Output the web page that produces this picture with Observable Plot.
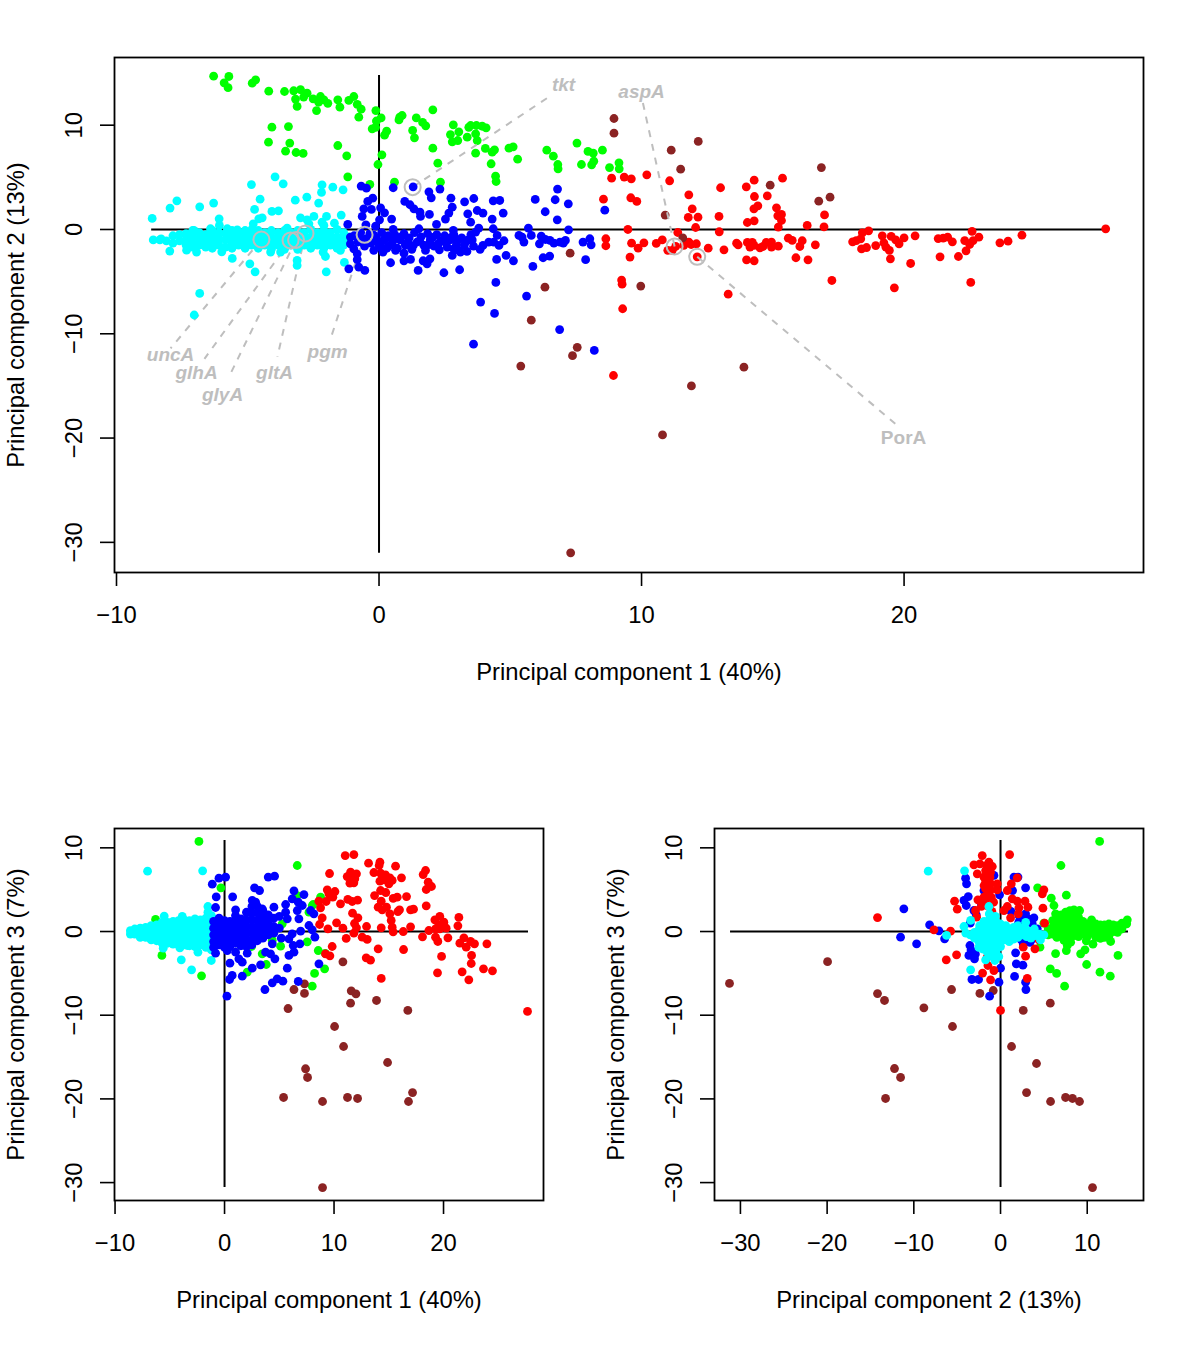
<!DOCTYPE html>
<html><head><meta charset="utf-8">
<script src="https://cdn.jsdelivr.net/npm/d3@7"></script>
<script src="https://cdn.jsdelivr.net/npm/@observablehq/plot@0.6"></script>
<style>html,body{margin:0;padding:0;background:#fff}#page{position:relative;width:1200px;height:1371px;overflow:hidden}#page svg{position:absolute;background:none;max-width:none}</style>
</head><body><div id="page"></div>
<script>
const GREEN="#00ff00",RED="#ff0000",BLUE="#0000ff",CYAN="#00ffff",BROWN="#8b2323",GREY="#bebebe";
const pc1Label="Principal component 1 (40%)",pc2Label="Principal component 2 (13%)",pc3Label="Principal component 3 (7%)";

// PC1 vs PC2
const a_green=[[-6.3,14.7],[-5.72,14.67],[-5.9,14.06],[-5.75,13.6],[-4.83,14.03],[-4.7,14.35],[-4.2,13.26],[-3.6,13.23],[-3.25,13.3],[-2.99,13.4],[-2.74,13.07],[-3.18,12.5],[-2.87,12.7],[-2.51,12.53],[-2.23,12.75],[-2.1,12.43],[-2.3,12.2],[-1.95,12.1],[-3.12,11.8],[-2.38,11.4],[-1.57,12.43],[-1.49,11.73],[-1.15,12.37],[-0.96,12.75],[-0.83,12],[-0.68,11.54],[-0.77,10.77],[-0.12,11.4],[0.08,10.7],[-0.1,10.4],[-0.13,9.8],[-0.26,9.65],[0.29,9.43],[0.21,9.04],[0.79,10.77],[0.88,10.93],[0.76,10.5],[1.42,10.7],[1.66,10.26],[1.78,9.94],[2.05,11.47],[1.28,9.5],[1.35,8.79],[2.83,10.03],[2.72,9.1],[3.04,9.36],[2.79,8.4],[3,8.53],[3.36,8.85],[3.42,9.8],[3.71,9.97],[3.68,9.17],[3.74,8.53],[3.68,7.32],[-4.08,9.81],[-3.45,9.87],[-4.21,8.37],[-3.4,8.28],[-3.56,7.51],[-3.16,7.38],[-2.89,7.29],[-1.57,8.05],[-1.23,7.06],[0.11,7.16],[-0.04,6.23],[2.05,7.8],[2.24,6.36],[-1.19,5.05],[-0.35,4.32],[0.59,4.54],[2.34,4.54],[3.49,9.97],[3.93,9.9],[4.08,9.75],[4.05,7.77],[4.4,7.64],[4.31,7.41],[4.95,7.8],[5.11,7.93],[5.28,6.74],[4.27,6.3],[4.44,5.11],[4.46,4.6],[6.39,7.6],[6.64,7.03],[6.81,6.23],[6.82,5.82],[7.54,8.28],[7.96,7.48],[8.16,7.32],[8.51,7.6],[8.18,6.55],[8.1,6.2],[7.71,6.23],[9.14,6.39],[8.78,5.94],[9.15,5.82]];
const a_red=[[8.86,4.92],[9.34,5.02],[9.61,4.86],[10.2,5.24],[11.07,4.67],[8.55,2.91],[9.59,3.04],[9.82,2.69],[9.48,0],[8.64,-0.89],[8.64,-1.56],[9.62,-1.31],[9.87,-1.79],[10.09,-1.28],[10.56,-1.34],[10.79,-1],[9.56,-2.65],[11,-2],[11.17,-2],[11.3,-1.63],[11.38,-0.29],[11.61,-1.53],[11.8,-1.21],[11.89,-1.44],[12.09,-1.37],[12.12,-2.62],[12.54,-1.79],[13.14,-1.95],[11.8,3.32],[11.93,1.98],[11.78,1.15],[12.15,1.18],[12.06,0.19],[12.95,1.25],[13.01,4],[12.96,-0.22],[13.62,-1.31],[13.68,-1.47],[13.99,4.09],[14.29,4.73],[15.37,4.92],[14.3,3.16],[14.79,3.23],[14.28,1.98],[14.43,2.27],[14.29,0.83],[14.03,0.67],[15.14,2.08],[15.33,1.44],[15.19,1.31],[15.33,0.86],[15.21,0.23],[16.31,0.39],[14.03,-1.24],[14.22,-1.24],[14.13,-1.69],[14.28,-1.53],[14.51,-1.76],[14.63,-1.63],[14.75,-1.24],[14.95,-1.21],[14.95,-1.69],[15.21,-1.6],[15.59,-0.83],[15.74,-1.05],[16.12,-1.08],[16.03,-1.63],[16.62,-1.47],[14,-2.91],[14.29,-3],[15.88,-2.71],[16.34,-2.91],[9.24,-4.85],[9.26,-5.24],[13.3,-6.2],[16.97,1.4],[16.95,0.25],[17.25,-4.89],[18.65,-0.13],[18.41,-0.32],[18.35,-0.9],[18.18,-1.06],[18.04,-1.18],[18.57,-1.73],[18.38,-1.86],[18.92,-1.54],[19.17,-0.61],[19.51,-0.67],[19.68,-0.99],[20,-0.8],[20.42,-0.61],[19.81,-1.38],[19.23,-1.28],[19.31,-1.7],[19.44,-2.01],[19.48,-2.81],[20.25,-3.26],[19.63,-5.59],[21.3,-0.87],[21.49,-0.83],[21.66,-0.74],[21.84,-1.18],[21.37,-2.62],[22.07,-2.59],[22.31,-1.06],[22.59,-0.19],[22.85,-0.74],[22.63,-1.06],[22.5,-1.44],[22.36,-2.05],[22.54,-5.08],[23.65,-1.28],[23.96,-1.12],[24.49,-0.55],[27.68,0.06],[8.93,-14],[9.28,-7.6]];
const a_brown=[[8.95,10.64],[8.95,9.23],[12.16,8.44],[11.13,7.6],[11.49,5.78],[14.9,4.25],[10.9,1.38],[11.57,-0.8],[7.28,-2.27],[6.32,-5.53],[9.97,-5.43],[16.85,5.94],[17.18,3.1],[16.75,2.71],[5.8,-8.7],[5.4,-13.1],[7.55,-11.3],[7.37,-12.1],[11.9,-15],[13.9,-13.2],[10.8,-19.7],[7.3,-31]];
const a_blue=[[-0.68,4.16],[-0.48,3.96],[0.54,4],[1.3,4.09],[1.9,3.61],[1.99,3.04],[2.32,3.87],[2.74,3],[-0.24,3],[-0.43,2.69],[0.98,2.69],[1.18,2.37],[1.33,1.98],[1.56,1.66],[1.58,1.25],[-0.58,1.98],[-0.29,1.92],[0.06,2.08],[0.21,1.6],[-0.64,1.25],[0.48,1],[0.02,0.93],[1.92,1.44],[2.79,2.14],[2.66,1.57],[2.53,1],[2.19,0.48],[3.26,2.65],[3.61,2.97],[3.74,1.82],[3.38,1.5],[3.49,0.7],[3.68,-0.25],[-1.19,0.48],[-0.5,0.45],[-0.13,0.32],[0.54,0],[1.52,0.07],[2.83,-0.09],[-1.09,-0.73],[-1.09,-1.37],[-0.96,-1.85],[-0.83,-2.33],[-0.83,-2.9],[-1.15,-3.77],[-0.77,-3.6],[-0.54,-3.93],[0.44,-3.19],[0.95,-3],[1.2,-2.87],[1.68,-3],[1.83,-3.29],[1.94,-2.81],[1.49,-3.93],[2.47,-4.15],[3.07,-3.86],[2.79,-2.49],[3.1,-2.17],[1.77,-2.01],[0.95,-2.27],[0.63,-2],[0.15,-2.17],[-0.95,-0.6],[-0.8,-1.2],[-0.7,-0.3],[-0.55,-1.6],[-0.5,-0.9],[-0.35,-0.4],[-0.3,-1.3],[-0.2,-2],[-0.1,-0.8],[0,-1.5],[0.1,-0.3],[0.15,-1.1],[0.3,-1.8],[0.35,-0.6],[0.5,-1.3],[0.6,-0.5],[0.7,-1.8],[0.8,-1],[0.95,-0.4],[1,-1.5],[1.15,-0.8],[1.25,-1.9],[1.35,-0.3],[1.45,-1.2],[1.6,-0.7],[1.7,-1.5],[1.85,-0.4],[1.95,-1],[2.1,-1.6],[2.2,-0.5],[2.35,-1.1],[2.5,-0.6],[2.6,-1.7],[2.7,-1],[2.85,-0.5],[2.95,-1.4],[3.05,-2],[3.15,-0.8],[3.25,-1.5],[3.4,-1],[3.5,-0.5],[3.6,-1.6],[-0.75,-0.75],[-0.2,-0.55],[0.25,-0.85],[0.55,-1],[0.85,-0.7],[0.4,-1.55],[1.1,-1.2],[1.3,-1.55],[1.55,-1.1],[1.9,-1.45],[2.05,-0.75],[2.25,-1.4],[2.55,-1.3],[2.75,-0.75],[3,-1],[3.3,-1.2],[3.55,-1],[-0.05,-1.15],[-0.6,-1.25],[0.1,-1.8],[3.85,-1.9],[3.35,-2.1],[2.85,-1.85],[2.3,-1.95],[4.35,2.75],[4.6,2.78],[3.96,1.57],[4.73,1.57],[4.31,1],[3.8,0.13],[4.35,0.07],[4.5,-0.57],[3.96,-1.53],[4.18,-1.21],[4.37,-1.21],[4.57,-1.53],[4.76,-1.08],[4.48,-2.87],[4.84,-2.49],[5.12,-3],[4.45,-5.08],[5.62,-6.39],[3.87,-6.96],[5.95,2.88],[6.71,2.85],[6.8,3.87],[7.21,2.46],[6.33,1.7],[6.79,0.93],[5.69,0.13],[7.22,-0.03],[5.33,-0.57],[5.45,-0.73],[5.8,-0.57],[5.52,-1.21],[6.18,-0.64],[6.11,-1.37],[6.34,-0.96],[6.51,-1.05],[6.66,-1.31],[6.89,-1.21],[7.1,-1.05],[7.02,-1.31],[7.77,-1.21],[8.03,-0.89],[8.08,-1.47],[6.25,-2.71],[6.5,-2.55],[5.86,-3.54],[7.87,-2.9],[8.6,1.85],[3.6,-11],[4.4,-8.05],[6.88,-9.6],[8.2,-11.6]];
const a_cyan=[[-8.64,1.06],[-7.96,2.05],[-7.7,2.75],[-6.83,2.17],[-6.3,2.53],[-6.09,1.02],[-6.08,0.39],[-4.86,4.31],[-3.96,5.05],[-3.65,4.38],[-4.53,2.91],[-4.74,1.92],[-4.45,1.12],[-4.58,1.02],[-4.79,0.54],[-4.08,1.73],[-3.83,1.79],[-3.19,2.81],[-2.75,3.1],[-2.3,2.53],[-2.17,4.28],[-2.19,3.55],[-1.76,4.06],[-1.37,3.8],[-1.44,1.38],[-2.99,1.12],[-2.74,0.93],[-2.48,1.25],[-2,1.25],[-2.17,0.7],[-1.7,0.6],[-2.67,0.54],[-7.05,-0.09],[-6.42,0.07],[-5.78,0.07],[-5.4,-0.03],[-4.83,0.07],[-3.5,0.13],[-2.1,0.39],[-7.97,-2.07],[-7.33,-1.98],[-6.95,-2.17],[-5.99,-2.14],[-5.59,-2.78],[-4.92,-3.29],[-4.72,-4.06],[-4.13,-2.17],[-3.75,-2.17],[-3.12,-2.97],[-3.12,-3.45],[-2.13,-2.17],[-2.04,-2.59],[-2.01,-4.06],[-1.32,-3.16],[-1.47,-2],[-6.83,-6.13],[-7.04,-8.2],
[-8.6,-1],[-8.35,-1],[-8.3,-0.9],[-8.1,-1.1],[-7.85,-0.6],[-7.85,-1.3],[-7.6,-0.5],[-7.6,-1.1],[-7.35,-0.4],[-7.35,-1],[-7.35,-1.5],[-7.1,-0.1],[-7.1,-0.7],[-7.1,-1.3],[-7.1,-1.7],[-6.85,-0.3],[-6.85,-0.9],[-6.85,-1.5],[-6.6,-0.5],[-6.6,-1.1],[-6.6,-1.7],[-6.35,-0.1],[-6.35,-0.7],[-6.35,-1.3],[-6.35,-1.8],[-6.1,-0.3],[-6.1,-0.9],[-6.1,-1.5],[-5.85,-0.4],[-5.85,-1],[-5.85,-1.7],[-5.6,-0.1],[-5.6,-0.7],[-5.6,-1.3],[-5.6,-1.8],[-5.35,-0.3],[-5.35,-0.9],[-5.35,-1.5],[-5.1,-0.1],[-5.1,-0.7],[-5.1,-1.3],[-5.1,-1.8],[-4.85,-0.3],[-4.85,-0.9],[-4.85,-1.5],[-4.6,-0.1],[-4.6,-0.6],[-4.6,-1.2],[-4.6,-1.8],[-4.35,-0.3],[-4.35,-0.9],[-4.35,-1.5],[-4.1,-0.1],[-4.1,-0.7],[-4.1,-1.3],[-4.1,-1.9],[-3.85,-0.3],[-3.85,-0.9],[-3.85,-1.5],[-3.6,-0.1],[-3.6,-0.7],[-3.6,-1.3],[-3.6,-1.9],[-3.35,-0.3],[-3.35,-0.9],[-3.35,-1.5],[-3.1,-0.1],[-3.1,-0.7],[-3.1,-1.3],[-3.1,-1.9],[-2.85,-0.3],[-2.85,-0.9],[-2.85,-1.5],[-2.6,0],[-2.6,-0.7],[-2.6,-1.3],[-2.6,-1.8],[-2.35,-0.3],[-2.35,-0.9],[-2.35,-1.5],[-2.1,-0.1],[-2.1,-0.7],[-2.1,-1.3],[-2.1,-1.8],[-1.85,-0.3],[-1.85,-0.9],[-1.85,-1.5],[-1.6,0],[-1.6,-0.7],[-1.6,-1.3],[-1.6,-1.8],[-1.35,-0.3],[-1.35,-0.9],[-1.35,-1.5],[-1.15,-0.7],[-1.15,-1.2]];

// PC1 vs PC3
const b_green=[[-2.34,10.76],[6.64,7.89],[-0.33,5.22],[-6.3,1.44],[-5.72,-2.86],[-2.1,-5.29],[2.07,-4.86],[3.81,-3.94],[8.01,-6.53],[8.22,-5.01],[9.14,-4.46],[8.56,-2.27],[7.55,-1.23],[5.12,-1.75],[2.47,-1.79],[4.36,-1.07],[8.01,3.11],[8.77,4.1],[5.27,0.92],[7.71,2.31],[6.64,4.3],[3.44,-2.66],[1.47,-1.67],[8.1,3.23],[9.2,-2.6]];
const b_cyan=[[-7.03,7.21],[-2,7.25],[-5.51,1.84],[-1.52,2.99],[-1.52,2.31],[-3.95,-3.38],[-3.01,-4.58],[-2.43,-2.47],[-1.21,-3.46],[-5.6,-1.99],[-4.08,-1.95],[-3.41,-1.67],[-3.86,1.8],
[-8.6,0.1],[-8.6,-0.3],[-8.2,0.3],[-8.2,-0.3],[-7.7,0.4],[-7.7,-0.2],[-7.7,-0.7],[-7.2,0.5],[-7.2,0],[-7.2,-0.7],[-6.7,0.7],[-6.7,0.1],[-6.7,-0.5],[-6.7,-1],[-6.2,0.8],[-6.2,0.2],[-6.2,-0.4],[-6.2,-1.1],[-5.7,1.1],[-5.7,0.5],[-5.7,-0.1],[-5.7,-0.7],[-5.7,-1.4],[-5.2,1.1],[-5.2,0.5],[-5.2,-0.1],[-5.2,-0.7],[-5.2,-1.4],[-4.7,1.2],[-4.7,0.6],[-4.7,0],[-4.7,-0.6],[-4.7,-1.2],[-4.7,-1.5],[-4.2,1.3],[-4.2,0.7],[-4.2,0.1],[-4.2,-0.5],[-4.2,-1.1],[-4.2,-1.6],[-3.7,1.4],[-3.7,0.8],[-3.7,0.2],[-3.7,-0.4],[-3.7,-1],[-3.7,-1.6],[-3.2,1.3],[-3.2,0.7],[-3.2,0.1],[-3.2,-0.5],[-3.2,-1.1],[-3.2,-1.7],[-2.7,1.5],[-2.7,0.9],[-2.7,0.3],[-2.7,-0.3],[-2.7,-0.9],[-2.7,-1.5],[-2.7,-1.8],[-2.2,1.4],[-2.2,0.8],[-2.2,0.2],[-2.2,-0.4],[-2.2,-1],[-2.2,-1.6],[-1.7,1.6],[-1.7,1],[-1.7,0.4],[-1.7,-0.2],[-1.7,-0.8],[-1.7,-1.4],[-1.7,-1.9],[-1.2,1.9],[-1.2,1.3],[-1.2,0.7],[-1.2,0.1],[-1.2,-0.5],[-1.2,-1.1],[-1.2,-1.7],[-1.2,-2.2]];
const b_blue=[[-1.12,5.66],[-0.51,6.38],[0.1,6.5],[-0.76,4.15],[0.74,4.15],[-0.82,2.87],[3.99,6.5],[4.57,6.61],[2.74,5.22],[3.2,4.9],[6.34,4.86],[7.25,4.42],[6.18,3.91],[5.58,3.23],[6.73,3.51],[7.1,3.11],[2.53,3.71],[2.84,3.51],[3.44,2.71],[1.01,2.59],[4.51,2.91],[7.86,2.51],[8.16,2.11],[6.64,2.51],[5.58,2.31],[5.73,1.52],[6.79,1.52],[7.71,0.72],[8.01,0.2],[6.95,0.04],[8.25,-0.67],[6.18,-0.28],[5.88,-0.87],[5.18,-0.79],[6.88,-1.47],[6.27,-1.67],[6.34,-2.47],[5.88,-2.86],[8.62,-3.86],[4.36,-1.47],[4.6,-3.26],[4.2,-2.66],[3.75,-2.47],[2.07,-2.59],[-0.82,-2.59],[0.25,-2.27],[1.01,-2.47],[1.31,-3.26],[1.62,-3.66],[0.49,-3.78],[3.29,-3.98],[2.53,-4.38],[1.62,-5.33],[0.7,-5.25],[0.46,-5.73],[5.73,-4.38],[4.81,-5.65],[4.36,-6.13],[5.33,-5.93],[6.73,-5.97],[3.69,-6.93],[0.22,-7.72],
[-1,1.2],[-1,0.4],[-1,-0.4],[-1,-1.2],[-1,-1.9],[-0.5,1.6],[-0.5,0.8],[-0.5,0],[-0.5,-0.8],[-0.5,-1.6],[0,1.3],[0,0.5],[0,-0.3],[0,-1.1],[0,-1.9],[0.5,1.2],[0.5,0.4],[0.5,-0.4],[0.5,-1.2],[0.5,-1.8],[1,1.9],[1,1],[1,0.2],[1,-0.6],[1,-1.4],[1.5,1.5],[1.5,0.7],[1.5,-0.1],[1.5,-0.9],[1.5,-1.7],[2,2.3],[2,1.4],[2,0.6],[2,-0.2],[2,-1],[2,-1.8],[2.5,3],[2.5,2.2],[2.5,1.4],[2.5,0.6],[2.5,-0.2],[2.5,-1],[2.5,-1.6],[3,3],[3,2.2],[3,1.3],[3,0.5],[3,-0.3],[3,-1.1],[3.5,2.5],[3.5,1.6],[3.5,0.8],[3.5,0],[3.5,-0.8],[4,2],[4,1.2],[4,0.4],[4,-0.4],[4.5,1.6],[4.5,0.6],[4.5,-0.2],[5,1.8],[5,0.4]];
const b_red=[[11.02,9.08],[11.81,9.2],[13.15,8.17],[14.19,8.29],[14.12,7.89],[15.62,7.81],[9.59,6.93],[11.51,7.09],[12.05,6.89],[11.2,6.57],[11.57,6.49],[11.9,6.3],[11.45,5.78],[11.81,5.82],[13.64,7.05],[14.25,6.97],[14.7,6.77],[15.1,6.42],[14.19,6.02],[14.55,6.18],[15.31,6.1],[15.01,5.7],[16.16,6.42],[18.36,7.29],[18.14,6.81],[18.6,5.9],[18.9,5.38],[18.42,5.02],[9.38,4.98],[10.08,4.78],[9.53,4.5],[9.89,4.1],[8.61,3.63],[9.28,3.59],[8.77,2.83],[10.59,3.31],[11.26,3.83],[11.66,3.59],[12.15,3.75],[13.7,4.3],[14.25,4.9],[14.73,4.66],[14.31,3.63],[15.4,3.95],[15.77,4.1],[16.62,4.18],[14.03,2.91],[14.4,2.59],[14.79,2.91],[15.98,2.59],[15.83,2.39],[16.99,2.59],[17.26,2.67],[18.42,3.07],[11.69,2.19],[12.18,1.64],[15.1,2.11],[15.22,1.32],[15.31,0.52],[15.4,-0.04],[8.92,1.64],[8.68,0.84],[10.23,1.04],[11.87,0.96],[12.05,0.44],[9.44,0.32],[10.81,0.4],[12.97,0.6],[14.31,0.44],[16.99,0.56],[16.32,0],[11.81,-0.2],[11.11,-0.83],[12.57,-0.67],[13.03,-0.95],[9.83,-1.79],[9.22,-2.66],[9.62,-2.9],[14.03,-2.07],[16.35,-2.15],[12.94,-3.14],[13.33,-3.42],[14.31,-5.61],[18.66,0.12],[18.08,-0.63],[19.21,1.4],[19.66,1.8],[20.03,1.12],[19.57,0.8],[19.27,0.32],[19.66,0.32],[20.24,0.4],[21.4,1.68],[21.31,0.68],[19.27,-0.67],[19.48,-1.19],[20.4,-0.75],[21.86,-0.75],[21.49,-1.39],[22.07,-1.87],[22.47,-1.19],[22.83,-1.47],[23.96,-1.47],[22.56,-2.86],[22.53,-3.82],[19.82,-2.98],[19.45,-4.94],[21.7,-4.82],[23.65,-4.46],[24.47,-4.7],[22.31,-5.77],[27.67,-9.55]];
const b_brown=[[10.81,-3.62],[6.34,-6.93],[7.3,-6.25],[7.3,-7.4],[11.57,-7.09],[12,-7.44],[11.51,-8.56],[13.88,-8.24],[16.74,-9.43],[5.8,-9.2],[10.05,-11.35],[10.87,-13.74],[7.4,-16.4],[7.58,-17.44],[5.39,-19.83],[11.23,-19.83],[12.15,-19.95],[8.95,-20.31],[16.8,-20.31],[17.17,-19.24],[14.89,-15.65],[8.95,-30.6]];

// PC2 vs PC3
const c_brown=[[-5.65,-6.93],[-2.38,-7.4],[-0.84,-7.05],[-8.84,-9.12],[2.62,-9.43],[5.74,-8.56],[-31.26,-6.2],[-19.95,-3.6],[-14.19,-7.41],[-13.38,-8.24],[-5.54,-11.35],[1.27,-13.74],[4.15,-15.77],[3,-19.24],[5.77,-20.31],[7.5,-19.83],[8.3,-19.95],[9.11,-20.31],[10.61,-30.6],[-12.23,-16.37],[-11.53,-17.44],[-13.26,-19.95]];
const c_green=[[11.43,10.76],[6.97,7.89],[4.28,5.22],[7.59,4.34],[5.85,3.99],[6.16,3.11],[6.35,2.11],[9.12,2.51],[8.47,2.59],[14.62,1.4],[14.55,0.92],[5,1],[5.5,0.3],[5.5,-0.4],[6,1.3],[6,0.5],[6,-0.3],[6.5,1.6],[6.5,0.8],[6.5,0],[6.5,-0.7],[7,2],[7,1.2],[7,0.4],[7,-0.4],[7.5,2.3],[7.5,1.5],[7.5,0.7],[7.5,-0.1],[7.5,-0.8],[8,2.5],[8,1.7],[8,0.9],[8,0.1],[8,-0.6],[8.5,1.8],[8.5,1],[8.5,0.2],[8.5,-0.5],[9,1.7],[9,0.9],[9,0.1],[9,-0.6],[9.5,1.2],[9.5,0.4],[9.5,-0.3],[10,0.9],[10,0.1],[10,-0.6],[10.5,1.4],[10.5,0.6],[10.5,-0.2],[11,0.9],[11,0.1],[11,-0.7],[11.5,0.8],[11.5,0],[11.5,-0.8],[12,0.8],[12,0],[12,-0.7],[12.5,0.9],[12.5,0.1],[12.5,-0.6],[13,0.8],[13,0],[13.5,0.7],[13.5,-0.1],[14,1],[14,0.3],[14.4,0.9],[12.7,-1.19],[11.54,-0.79],[10.66,-1.51],[9.89,-1.11],[9.74,-2.19],[9.24,-2.66],[7.7,-1.67],[7.32,-1.07],[8.09,-1.27],[7.59,-2.27],[6.35,-2.63],[9.93,-3.94],[13.55,-2.86],[5.74,-4.46],[6.47,-5.01],[11.47,-4.86],[12.66,-5.33],[7.39,-6.53],[6.24,-0.28],[4.55,-1.87]];
const c_blue=[[-11.15,2.71],[-11.53,-0.67],[-9.68,-1.47],[-8.18,0.8],[-7.11,0.08],[-6.45,-0.87],[-4.03,6.38],[-3.92,5.7],[-3.72,4.18],[-4.22,3.71],[-3.95,3.11],[1.55,6.5],[2.01,6.5],[2.89,5.22],[1.39,4.9],[-0.11,4.38],[-3.07,2.51],[2.89,2.11],[3.85,1.64],[3.66,0.92],[2.13,1.91],[4.24,0.32],[-3.65,-2.86],[-3,-3.26],[-3.53,-1.67],[1.74,-2.55],[2.62,-1.47],[1.82,-3.86],[2.58,-4.02],[1.62,-5.37],[0,-4.38],[-3.3,-5.73],[-2.53,-5.73],[-0.18,-6.05],[2.89,-6.05],[2.93,-6.93],[-1.26,-7.72],[1.74,-0.67],[-1.91,4.9],[-0.76,6.7],[3,-0.3],[3.6,-0.9],[1.2,2.4],[-2.2,3.2],[3.2,1.5],[2.5,1.8],[2.4,-1],[-3.4,-2.2],[-2.8,2],[-3.5,1],[3.4,-1.3],[2.1,1.1],[-2.9,-2.7]];
const c_red=[[-2.11,9.08],[1.05,9.2],[-3.07,7.97],[-2.38,8.09],[-1.34,8.29],[-0.95,7.77],[-2.68,6.89],[-1.72,7.29],[-1.15,7.09],[-1.91,6.49],[-1.22,6.49],[-1.72,5.9],[-1.15,5.7],[-1.72,5.1],[-1.15,4.98],[-0.38,5.7],[-0.38,4.98],[1.93,6.42],[1.24,5.7],[0.78,4.9],[5,4.98],[4.82,4.5],[-1.45,4.5],[-1.07,4.1],[-1.91,4.1],[-2.61,3.79],[1.35,3.91],[1.93,3.63],[2.82,3.63],[3.16,2.91],[2.12,2.83],[2.05,2.11],[0.78,2.99],[0.39,2.51],[4.89,2.79],[-5.3,3.63],[-4.99,2.67],[-2.88,2.51],[-2.76,1.72],[1.16,1.64],[5.08,1],[-7.68,0.2],[-5.76,0.04],[4.43,-0.99],[3.97,-2.07],[2.62,-1.87],[2.89,-2.94],[-5.07,-2.79],[-6.26,-3.38],[-1.53,-3.06],[-1.45,-4.06],[-0.76,-4.66],[-2.07,-4.97],[-1.15,-5.77],[3.08,-5.61],[0,-9.43],[-14.19,1.67],[-1.5,6.9],[-1.9,5.5],[-1.4,5.3],[-1.6,4],[-2.2,3],[-1.4,3],[-0.8,3.5],[-1.6,7.9],[-1.3,6],[-1.8,3.4],[-1,2.4]];
const c_cyan=[[-8.34,7.21],[-4.15,7.25],[-3.45,-4.58],[-1.72,-3.38],[-0.65,-3.46],[-6.22,-0.47],[-4.22,0.6],[-3.45,1.32],[-1.34,2.99],[5,-0.4],[-1.3,2.1],[-1.3,1.4],[-0.6,1.8],[-0.5,1.1],[-1.9,1.2],[-2.4,0.7],[0,0.9],[0.6,0.7],[-4,-0.2],[-3.5,-0.4],[-3,-0.1],[-3,-0.8],[-2.5,0.2],[-2.5,-0.5],[-2.5,-1.2],[-2.5,-1.9],[-2,0.7],[-2,0],[-2,-0.7],[-2,-1.4],[-2,-2.1],[-1.5,0.9],[-1.5,0.2],[-1.5,-0.5],[-1.5,-1.2],[-1.5,-1.9],[-1.5,-2.5],[-1,0.6],[-1,-0.1],[-1,-0.8],[-1,-1.5],[-1,-2.2],[-1,-2.9],[-0.5,0.5],[-0.5,-0.2],[-0.5,-0.9],[-0.5,-1.6],[-0.5,-2.3],[-0.2,-3],[0,0.3],[0,-0.4],[0,-1.1],[0,-1.8],[0.5,0.4],[0.5,-0.3],[0.5,-1],[1,0.1],[1,-0.6],[1,-1.2],[1.5,0.5],[1.5,-0.2],[1.5,-0.9],[2,0.7],[2,0],[2,-0.7],[2.5,0.3],[2.5,-0.4],[2.9,1.1],[3,0.2],[3,-0.6],[3.5,0],[3.5,-0.8],[3.9,0.3],[4,-0.5],[4.5,-0.3],[4.6,-1]];

// Labelled genes in the PC1/PC2 panel
const genes=["uncA","glhA","glyA","gltA","pgm","tkt","aspA","PorA"];
const genePC1=[-4.48,-3.37,-3.16,-2.8,-0.55,1.28,11.26,12.12];
const genePC2=[-0.96,-1.05,-1,-0.38,-0.51,4.06,-1.63,-2.62];
const labelPC1=[-7.94,-6.95,-5.96,-3.98,-1.96,7.03,10,19.98];
const labelPC2=[-11.98,-13.8,-15.82,-13.8,-11.7,13.9,13.23,-19.94];
const leaderPC1=[-7.94,-6.65,-5.73,-3.87,-1.81,6.61,10.04,19.75];
const leaderPC2=[-11.4,-12.4,-14.2,-12.2,-10.2,12.94,12.27,-18.8];
const italicGenes=[true,true,true,true,true,true,true,false];
const geneRows=genes.map((g,i)=>({g,x:genePC1[i],y:genePC2[i],lx:labelPC1[i],ly:labelPC2[i],ex:leaderPC1[i],ey:leaderPC2[i],it:italicGenes[i]}));

const FONT="Liberation Sans, Arimo, Helvetica, Arial, sans-serif";
const DOT_R=4.4;
const minus=d=>d<0?"\u2212"+(-d):String(d);
const dots=(data,fill)=>Plot.dot(data,{x:d=>d[0],y:d=>d[1],r:DOT_R,fill,stroke:"none"});

function panel(o){
  const svg=Plot.plot({
    width:o.width,height:o.height,
    marginLeft:114,marginRight:57,marginTop:57,marginBottom:o.marginBottom,
    style:{fontFamily:FONT,background:"transparent",overflow:"visible"},
    x:{domain:o.xd,label:null},y:{domain:o.yd,label:null},
    marks:[
      Plot.ruleY([0],{x1:o.h[0],x2:o.h[1],stroke:"#000",strokeWidth:2}),
      Plot.ruleX([0],{y1:o.v[0],y2:o.v[1],stroke:"#000",strokeWidth:2}),
      ...o.marks,
      Plot.frame({stroke:"#000",strokeWidth:1.8}),
      Plot.axisX({ticks:o.xt,tickFormat:minus,tickSize:14,tickPadding:20,fontSize:23.8,label:o.xl,labelAnchor:"center",labelArrow:"none",labelOffset:107,stroke:"#000",strokeWidth:1.6,fill:"#000"}),
      Plot.axisY({ticks:o.yt,tickFormat:minus,tickSize:14,tickPadding:19,tickRotate:-90,fontSize:23.8,label:o.yl,labelAnchor:"center",labelArrow:"none",labelOffset:107,stroke:"#000",strokeWidth:1.6,fill:"#000"})
    ]
  });
  svg.style.left=o.left+"px";svg.style.top=o.top+"px";
  document.getElementById("page").appendChild(svg);
}

const geneText=(rows,fontStyle)=>Plot.text(rows,{x:"lx",y:"ly",text:"g",fill:GREY,fontSize:19,fontWeight:"bold",fontStyle,lineAnchor:"middle"});
panel({left:0,top:0,width:1200,height:700,marginBottom:128,
  xd:[-10.076,29.12],yd:[-32.89,16.49],xt:[-10,0,10,20],yt:[-30,-20,-10,0,10],xl:pc1Label,yl:pc2Label,
  h:[-8.66,27.7],v:[-31.05,14.77],
  marks:[dots(a_green,GREEN),dots(a_red,RED),dots(a_brown,BROWN),
    Plot.link(geneRows,{x1:"x",y1:"y",x2:"ex",y2:"ey",stroke:GREY,strokeWidth:2,strokeDasharray:"7 7"}),
    dots(a_cyan,CYAN),dots(a_blue,BLUE),
    Plot.dot(geneRows,{x:"x",y:"y",r:8,stroke:GREY,strokeWidth:2,fill:"none"}),
    geneText(geneRows.filter(d=>d.it),"italic"),
    geneText(geneRows.filter(d=>!d.it),"normal")
  ]});
panel({left:0,top:771,width:600,height:600,marginBottom:171,
  xd:[-10.05,29.13],yd:[-32.14,12.31],xt:[-10,0,10,20],yt:[-30,-20,-10,0,10],xl:pc1Label,yl:pc3Label,
  h:[-8.77,27.76],v:[-30.6,10.87],
  marks:[dots(b_green,GREEN),dots(b_brown,BROWN),dots(b_cyan,CYAN),dots(b_red,RED),dots(b_blue,BLUE)]});
panel({left:600,top:771,width:600,height:600,marginBottom:171,
  xd:[-32.99,16.49],yd:[-32.14,12.31],xt:[-30,-20,-10,0,10],yt:[-30,-20,-10,0,10],xl:pc2Label,yl:pc3Label,
  h:[-31.14,14.76],v:[-30.6,10.87],
  marks:[dots(c_brown,BROWN),dots(c_green,GREEN),dots(c_blue,BLUE),dots(c_red,RED),dots(c_cyan,CYAN)]});
</script></body></html>
